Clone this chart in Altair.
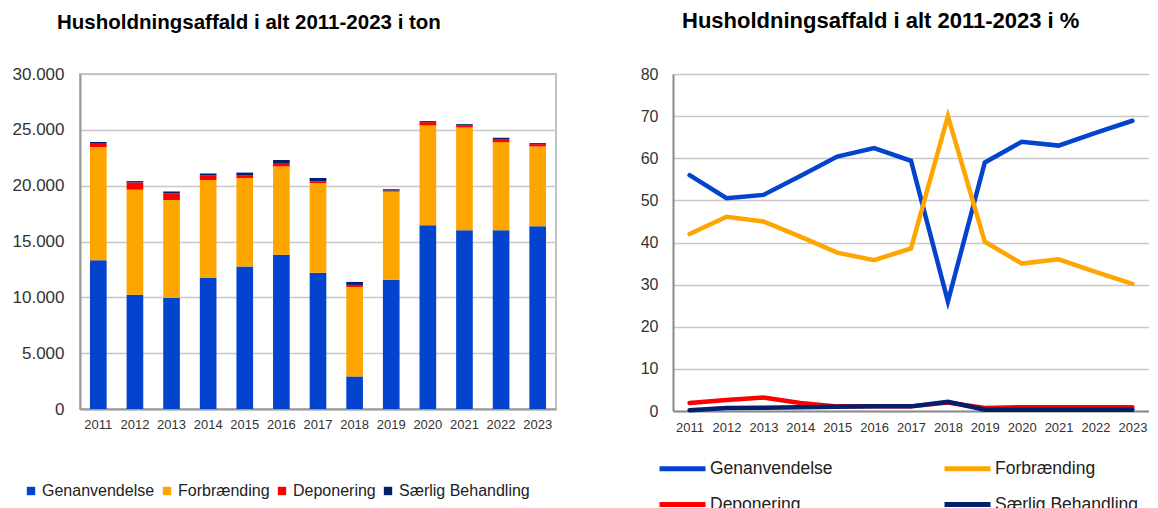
import altair as alt
import pandas as pd

years = [2011, 2012, 2013, 2014, 2015, 2016, 2017, 2018, 2019, 2020, 2021, 2022, 2023]
categories = ["Genanvendelse", "Forbrænding", "Deponering", "Særlig Behandling"]
colors = ["#0343CE", "#FFA500", "#FF0000", "#00206E"]

# tons (stacked bars)
ton_gen = [13330, 10240, 9940, 11730, 12770, 13810, 12200, 2920, 11580, 16460, 16010, 16010, 16370]
ton_forb = [10130, 9400, 8780, 8780, 7920, 7920, 8040, 8010, 7890, 8930, 9200, 7890, 7140]
ton_dep = [360, 650, 570, 390, 210, 300, 150, 180, 90, 300, 210, 270, 210]
ton_saer = [90, 120, 180, 180, 270, 270, 300, 270, 120, 90, 90, 120, 90]

# percent (lines)
pct_gen = [56.0, 50.5, 51.3, 55.8, 60.4, 62.4, 59.4, 26.0, 59.0, 63.9, 63.0, 66.0, 68.9]
pct_forb = [42.0, 46.1, 45.0, 41.4, 37.6, 35.8, 38.6, 70.0, 40.2, 35.0, 36.0, 33.0, 30.2]
pct_dep = [1.9, 2.6, 3.2, 1.9, 1.1, 1.1, 1.1, 2.0, 0.7, 0.9, 0.9, 0.9, 0.9]
pct_saer = [0.2, 0.7, 0.8, 0.9, 1.0, 1.1, 1.1, 2.2, 0.3, 0.3, 0.3, 0.3, 0.3]

FONT = "Liberation Sans"


def long(series):
    rows = []
    for i, yr in enumerate(years):
        for k, (cat, vals) in enumerate(zip(categories, series)):
            rows.append({"year": str(yr), "cat": cat, "order": k, "value": vals[i]})
    return pd.DataFrame(rows)


df_t = long([ton_gen, ton_forb, ton_dep, ton_saer])
df_p = long([pct_gen, pct_forb, pct_dep, pct_saer])

left = alt.Chart(df_t).mark_bar().encode(
    x=alt.X("year:O", title=None,
            scale=alt.Scale(paddingInner=0.545, paddingOuter=0.2725),
            axis=alt.Axis(labelAngle=0, labelFontSize=13, labelFont=FONT, labelColor="#333333",
                          ticks=False, labelPadding=9, domainColor="#9a9a9a", domainWidth=2)),
    y=alt.Y("value:Q", stack="zero", title=None,
            scale=alt.Scale(domain=[0, 30000], nice=False),
            axis=alt.Axis(values=[0, 5000, 10000, 15000, 20000, 25000, 30000],
                          labelExpr="replace(format(datum.value, ',d'), ',', '.')",
                          labelFontSize=17, labelFont=FONT, labelColor="#333333",
                          ticks=False, labelPadding=16, domainColor="#9a9a9a", domainWidth=2,
                          gridColor="#c8c8c8", gridWidth=1.5)),
    color=alt.Color("cat:N", sort=categories,
                    scale=alt.Scale(domain=categories, range=colors),
                    legend=alt.Legend(title=None, orient="none", legendX=-57, legendY=409,
                                      direction="horizontal", symbolType="square",
                                      symbolSize=70, symbolStrokeWidth=0,
                                      labelFontSize=16, labelFont=FONT, labelColor="#222222",
                                      columnPadding=4, labelOffset=3)),
    order=alt.Order("order:Q"),
).properties(
    width=476, height=335,
    title=alt.TitleParams("Husholdningsaffald i alt 2011-2023 i ton", anchor="start", frame="group",
                          dx=-23, fontSize=20.5, font=FONT, fontWeight="bold", color="#000000",
                          baseline="alphabetic", offset=16),
)

right = alt.Chart(df_p).mark_line(strokeWidth=4.5, strokeCap="round").encode(
    x=alt.X("year:O", title=None,
            scale=alt.Scale(type="point", padding=0.45),
            axis=alt.Axis(labelAngle=0, labelFontSize=13, labelFont=FONT, labelColor="#333333",
                          ticks=False, labelPadding=10, domainColor="#8a8a8a", domainWidth=2)),
    y=alt.Y("value:Q", title=None,
            scale=alt.Scale(domain=[0, 80], nice=False),
            axis=alt.Axis(values=[0, 10, 20, 30, 40, 50, 60, 70, 80],
                          labelFontSize=16, labelFont=FONT, labelColor="#333333",
                          ticks=False, labelPadding=15, domainColor="#8a8a8a", domainWidth=2,
                          gridColor="#c8c8c8", gridWidth=1.5)),
    color=alt.Color("cat:N", sort=categories,
                    scale=alt.Scale(domain=categories, range=colors),
                    legend=alt.Legend(title=None, orient="none", legendX=-16, legendY=369,
                                      direction="horizontal", columns=2, symbolType="stroke",
                                      symbolSize=2116, symbolStrokeWidth=5, labelFontSize=17.5,
                                      labelFont=FONT, labelColor="#222222", columnPadding=101,
                                      rowPadding=0, labelOffset=2)),
    order=alt.Order("year:O"),
).properties(
    width=476, height=337,
    view=alt.ViewConfig(strokeOpacity=0),
    title=alt.TitleParams("Husholdningsaffald i alt 2011-2023 i %", anchor="start", frame="group",
                          dx=9, fontSize=22, font=FONT, fontWeight="bold", color="#000000",
                          baseline="alphabetic", offset=16),
)

chart = alt.hconcat(left, right, spacing=83).resolve_scale(color="independent").resolve_legend(
    color="independent"
).properties(
    padding={"left": 3, "top": 2, "right": 0, "bottom": 0}
).configure_view(stroke="#c0c0c0", strokeWidth=2)

chart.save("out.html", embed_options={"renderer": "svg", "actions": False})
